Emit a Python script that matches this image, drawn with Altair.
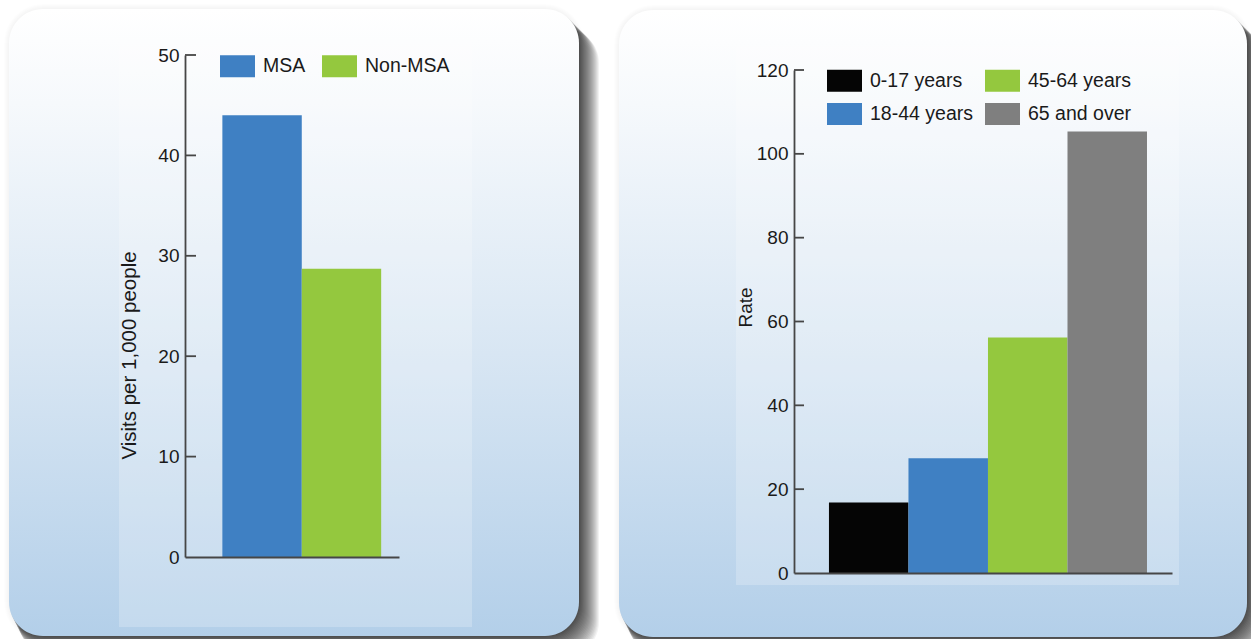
import altair as alt
import pandas as pd

# --- data -------------------------------------------------------------
area_groups = ["MSA", "Non-MSA"]
area_visits = [44.0, 28.7]
area_colors = ["#3f80c3", "#94c83e"]
area_ticks = [10, 20, 30, 40, 50]

age_groups = ["0-17 years", "18-44 years", "45-64 years", "65 and over"]
age_rates = [16.8, 27.4, 56.2, 105.3]
age_colors = ["#050505", "#3f80c3", "#94c83e", "#7f7f7f"]
age_ticks = [20, 40, 60, 80, 100, 120]
# legend reads column-wise: 0-17 / 18-44 on the left, 45-64 / 65+ on the right
age_legend_order = ["0-17 years", "45-64 years", "18-44 years", "65 and over"]

W, H = 1251, 639
FONT = "Liberation Sans"
INK = "#1a1a1a"
AXIS_INK = "#464646"

area_df = pd.DataFrame({"group": area_groups, "visits": area_visits})
age_df = pd.DataFrame({"group": age_groups, "rate": age_rates})
area_tick_df = pd.DataFrame({"v": area_ticks})
age_tick_df = pd.DataFrame({"v": age_ticks})
one_row = alt.Data(values=[{"k": 0}])

panel_fill = alt.Gradient(
    gradient="linear",
    stops=[
        alt.GradientStop(color="#ffffff", offset=0),
        alt.GradientStop(color="#f6f9fc", offset=0.15),
        alt.GradientStop(color="#d8e6f3", offset=0.55),
        alt.GradientStop(color="#b3cfe9", offset=1),
    ],
    x1=0, x2=0, y1=0, y2=1,
)


def box(x1, y1, x2, y2, **mark):
    return alt.Chart(one_row).mark_rect(**mark).encode(
        x=alt.value(x1), x2=alt.value(x2), y=alt.value(y1), y2=alt.value(y2)
    )


def card(x1, y1, x2, y2, radius=34):
    layers = []
    # faint halo all round
    for d in range(1, 6):
        layers.append(box(x1 - d, y1 - d, x2 + d, y2 + d, fill="#000000",
                          opacity=0.008, cornerRadius=radius + d))
    # drop shadow towards the lower right
    for d in range(1, 21):
        layers.append(box(x1 + d * 0.5, y1 + d, x2 + d, y2 + d, fill="#000000",
                          opacity=0.05, cornerRadius=radius))
    layers.append(box(x1, y1, x2, y2, fill=panel_fill, cornerRadius=radius))
    return layers


decor = []
decor += card(9, 9, 579, 636)
decor += card(619, 10, 1247, 637)
# lighter plate behind each plot
decor.append(box(119, 32, 472, 627, fill="#ffffff", opacity=0.22))
decor.append(box(736, 46, 1179, 585, fill="#ffffff", opacity=0.22))

LEGEND_SWATCH = dict(
    symbolType="M-1,-0.63L1,-0.63L1,0.63L-1,0.63Z",
    symbolSize=1225, symbolStrokeWidth=0, symbolOpacity=1,
    labelFont=FONT, labelFontSize=19.5, labelColor=INK, labelOffset=8,
    padding=0, title=None, orient="none", direction="horizontal",
)

# --- left panel: visits by area --------------------------------------
left_y = alt.Scale(domain=[0, 50], range=[557, 55], nice=False)
left_x = alt.Scale(domain=area_groups, range=[185, 399], paddingInner=0,
                   paddingOuter=0.3476, align=0.677)

left_bars = alt.Chart(area_df).mark_bar(size=79.4).encode(
    x=alt.X("group:N", scale=left_x, sort=area_groups,
            axis=alt.Axis(orient="bottom", offset=-(H - 557), labels=False, ticks=False,
                          tickSize=0, title=None, domainColor=AXIS_INK, domainWidth=1.8,
                          zindex=1)),
    y=alt.Y("visits:Q", scale=left_y,
            axis=alt.Axis(orient="left", offset=-185, values=[0] + area_ticks, ticks=False,
                          tickSize=0, grid=False, domainColor=AXIS_INK, domainWidth=1.8,
                          labelFont=FONT, labelFontSize=19, labelColor=INK, labelPadding=6,
                          title="Visits per 1,000 people", titleFont=FONT, titleFontSize=20.5,
                          titleFontWeight="normal", titleColor=INK, titleAngle=270,
                          titleX=-49.5, titleY=355, titleAlign="center",
                          titleBaseline="alphabetic", zindex=1)),
    color=alt.Color("group:N",
                    scale=alt.Scale(domain=area_groups, range=area_colors),
                    legend=alt.Legend(legendX=220, legendY=48.5, columnPadding=16,
                                      **LEGEND_SWATCH)),
)

left_ticks = alt.Chart(area_tick_df).mark_rule(color=AXIS_INK, strokeWidth=1.8).encode(
    y=alt.Y("v:Q", scale=left_y, axis=None),
    x=alt.value(185),
    x2=alt.value(196),
)

# --- right panel: rate by age ----------------------------------------
right_y = alt.Scale(domain=[0, 120], range=[573, 70], nice=False)
right_x = alt.Scale(domain=age_groups, range=[794, 1172], paddingInner=0,
                    paddingOuter=0.377, align=0.583)

right_bars = alt.Chart(age_df).mark_bar(size=79.5).encode(
    x=alt.X("group:N", scale=right_x, sort=age_groups,
            axis=alt.Axis(orient="bottom", offset=-(H - 573), labels=False, ticks=False,
                          tickSize=0, title=None, domainColor=AXIS_INK, domainWidth=1.8,
                          zindex=1)),
    y=alt.Y("rate:Q", scale=right_y,
            axis=alt.Axis(orient="left", offset=-794, values=[0] + age_ticks, ticks=False,
                          tickSize=0, grid=False, domainColor=AXIS_INK, domainWidth=1.8,
                          labelFont=FONT, labelFontSize=19, labelColor=INK, labelPadding=6,
                          title="Rate", titleFont=FONT, titleFontSize=19,
                          titleFontWeight="normal", titleColor=INK, titleAngle=270,
                          titleX=-42.5, titleY=307, titleAlign="center",
                          titleBaseline="alphabetic", zindex=1)),
    color=alt.Color("group:N",
                    scale=alt.Scale(domain=age_legend_order,
                                    range=[age_colors[age_groups.index(g)] for g in age_legend_order]),
                    legend=alt.Legend(legendX=827, legendY=63, columns=2,
                                      columnPadding=12, rowPadding=4.5, **LEGEND_SWATCH)),
)

right_ticks = alt.Chart(age_tick_df).mark_rule(color=AXIS_INK, strokeWidth=1.8).encode(
    y=alt.Y("v:Q", scale=right_y, axis=None),
    x=alt.value(794),
    x2=alt.value(804),
)

chart = alt.layer(
    *decor, left_bars, left_ticks, right_bars, right_ticks
).resolve_scale(
    x="independent", y="independent", color="independent"
).properties(
    width=W, height=H, padding=0, autosize="none", background="white"
).configure_view(stroke=None)

chart.save("out.html", embed_options={"renderer": "svg", "actions": False})
